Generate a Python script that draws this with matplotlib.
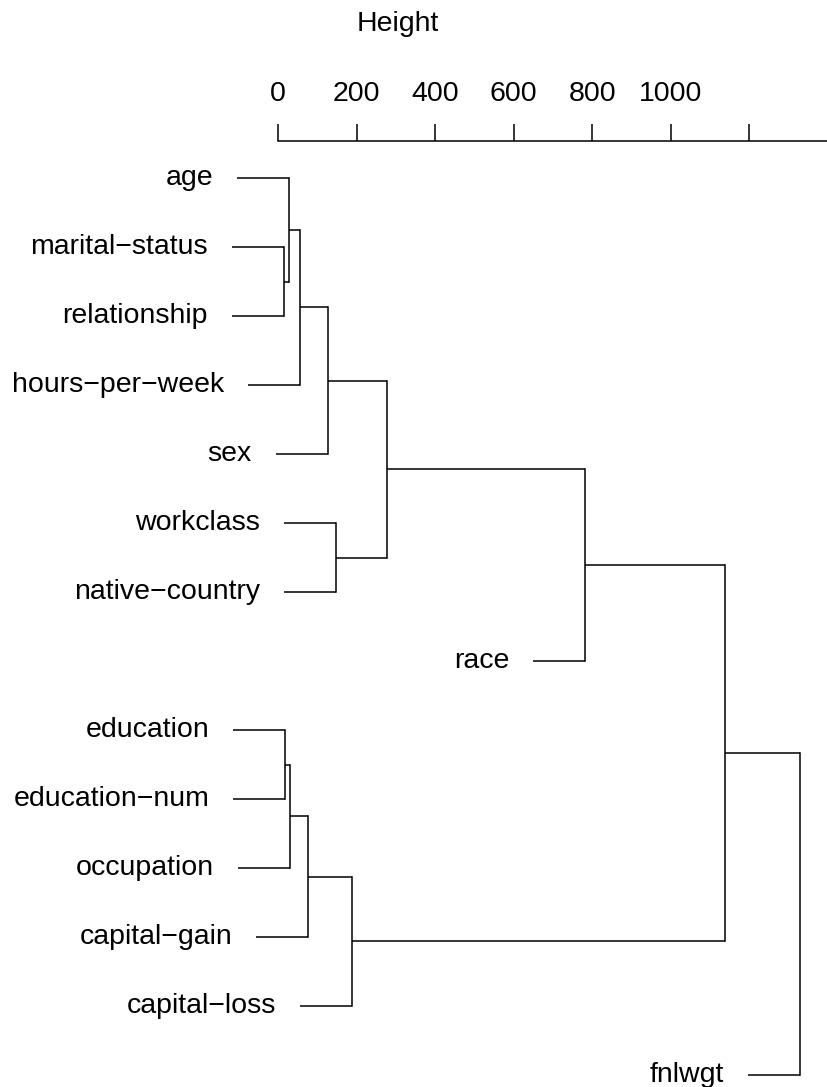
import numpy as np
import matplotlib.pyplot as plt

plt.rcParams['font.family'] = ['Liberation Sans', 'DejaVu Sans']

# ---------------------------------------------------------------------------
# data: leaves in plotting order (top to bottom), merges as in hclust
# negative = leaf number, positive = earlier merge step
# ---------------------------------------------------------------------------
leaf_labels = ['age', 'marital\u2212status', 'relationship', 'hours\u2212per\u2212week',
               'sex', 'workclass', 'native\u2212country', 'race', 'education',
               'education\u2212num', 'occupation', 'capital\u2212gain',
               'capital\u2212loss', 'fnlwgt']
merge_left = [-2, -9, -1, 2, 3, 4, 5, -6, 6, 7, 10, 11, 12]
merge_right = [-3, -10, 1, -11, -4, -12, -5, -7, -13, 8, -8, 9, -14]
merge_height = [6.5, 10.8, 20, 23.4, 47.8, 68.6, 118, 138, 179, 268, 766, 1118, 1308]

axis_ticks = [0, 200, 400, 600, 800, 1000, 1200, 1400]
axis_tick_labels = ['0', '200', '400', '600', '800', '1000', '', '']

HANG = 0.1 * max(merge_height)

# ---------------------------------------------------------------------------
# layout
# ---------------------------------------------------------------------------
W, H = 828, 1087
X0 = 281.0          # pixel of height 0
PX_PER_UNIT = 0.397
LEAF_TOP, LEAF_STEP = 178.0, 69.0
FS = 20.5
LW = 1.1

fig = plt.figure(figsize=(W / 100, H / 100), dpi=100)
xlim = (-X0 / PX_PER_UNIT, (W - X0) / PX_PER_UNIT)

ax = fig.add_axes([0, 0, 1, 1])
ax.set_xlim(*xlim)
n = len(leaf_labels)
ax.set_ylim(n + (H - LEAF_TOP - (n - 1) * LEAF_STEP) / LEAF_STEP, 1 - LEAF_TOP / LEAF_STEP)
ax.axis('off')

node_pos = {}
for k, (a, b, h) in enumerate(zip(merge_left, merge_right, merge_height), start=1):
    ys = []
    for c in (a, b):
        if c < 0:
            y = float(-c)
            ch = h - HANG
            ax.annotate(leaf_labels[-c - 1], (ch, y), xytext=(-17.3, 0),
                        textcoords='offset points', ha='right', va='center',
                        fontsize=FS, annotation_clip=False)
        else:
            y = node_pos[c]
            ch = merge_height[c - 1]
        ax.plot([ch, h], [y, y], color='black', lw=LW, solid_capstyle='butt')
        ys.append(y)
    ax.plot([h, h], ys, color='black', lw=LW, solid_capstyle='projecting')
    node_pos[k] = float(np.mean(ys))

# height axis on top
axis_y = 140.7
ax2 = fig.add_axes([0, 1 - axis_y / H, 1, 1e-4])
ax2.set_xlim(*xlim)
ax2.patch.set_visible(False)
for s in ('left', 'right', 'bottom'):
    ax2.spines[s].set_visible(False)
ax2.spines['top'].set_bounds(axis_ticks[0], axis_ticks[-1])
ax2.spines['top'].set_linewidth(LW)
ax2.set_yticks([])
ax2.xaxis.set_ticks_position('top')
ax2.set_xticks(axis_ticks)
ax2.set_xticklabels(axis_tick_labels)
ax2.tick_params(axis='x', direction='out', length=12.5, width=LW, pad=12, labelsize=FS)

fig.text(398 / W, 1 - 24 / H, 'Height', ha='center', va='center', fontsize=FS)

fig.savefig('out.png', dpi=100)
